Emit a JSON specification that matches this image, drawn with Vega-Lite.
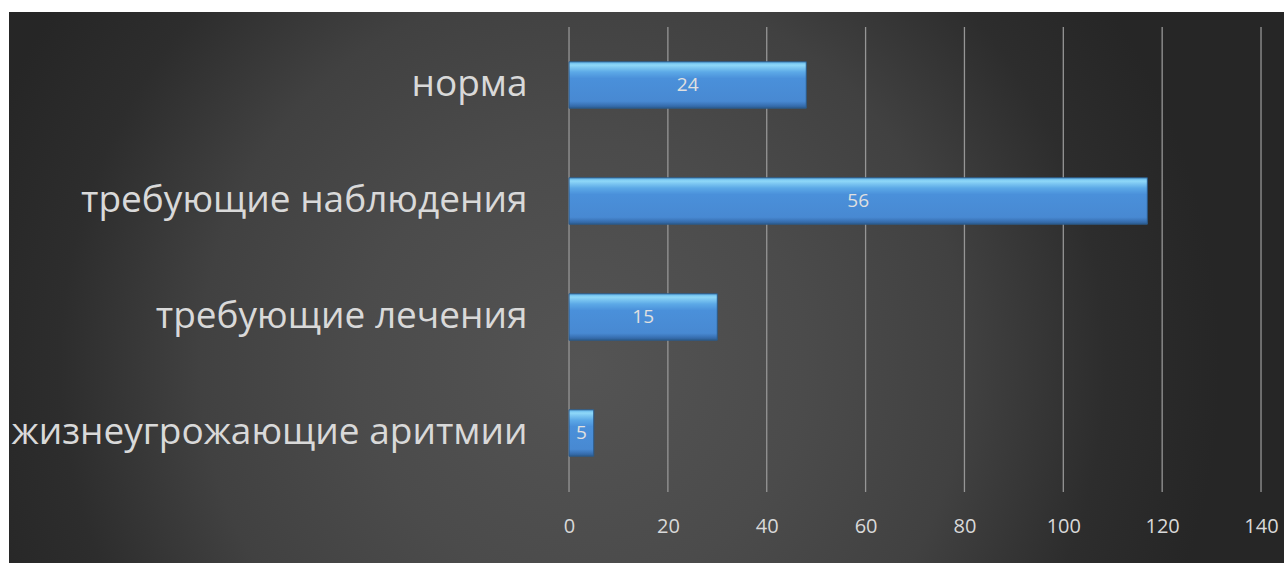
{
  "$schema": "https://vega.github.io/schema/vega-lite/v6.json",
  "width": 1275,
  "height": 551,
  "autosize": "none",
  "padding": {"left": 9, "top": 12, "right": 0, "bottom": 0},
  "background": "#ffffff",
  "config": {
    "font": "Open Sans",
    "view": {
      "stroke": null,
      "fill": {
        "gradient": "radial",
        "x1": 0.45, "y1": 0.56, "r1": 0,
        "x2": 0.45, "y2": 0.56, "r2": 0.5,
        "stops": [
          {"offset": 0, "color": "#545454"},
          {"offset": 0.35, "color": "#4b4b4b"},
          {"offset": 0.6, "color": "#414141"},
          {"offset": 0.82, "color": "#2d2d2d"},
          {"offset": 1, "color": "#262626"}
        ]
      }
    }
  },
  "datasets": {
    "bars": [
      {"cat": "норма", "v": 48, "lab": 24},
      {"cat": "требующие наблюдения", "v": 117, "lab": 56},
      {"cat": "требующие лечения", "v": 30, "lab": 15},
      {"cat": "жизнеугрожающие аритмии", "v": 5, "lab": 5}
    ],
    "ticks": [
      {"t": 0}, {"t": 20}, {"t": 40}, {"t": 60}, {"t": 80}, {"t": 100}, {"t": 120}, {"t": 140}
    ]
  },
  "layer": [
    {
      "data": {"name": "ticks"},
      "mark": {"type": "rule", "color": "#969696", "strokeWidth": 1.3},
      "encoding": {
        "x": {"field": "t", "type": "quantitative", "scale": {"domain": [-113.3, 144.65], "nice": false, "zero": false}, "axis": null},
        "y": {"datum": 0, "type": "quantitative", "scale": {"domain": [0, 1], "range": [15, 480]}, "axis": null},
        "y2": {"datum": 1}
      }
    },
    {
      "data": {"name": "bars"},
      "mark": {
        "type": "bar",
        "stroke": "#2c5a88",
        "strokeWidth": 1,
        "color": {
          "gradient": "linear",
          "x1": 0, "y1": 0, "x2": 0, "y2": 1,
          "stops": [
            {"offset": 0, "color": "#5fb2ea"},
            {"offset": 0.07, "color": "#8fd8f8"},
            {"offset": 0.22, "color": "#5ca9e7"},
            {"offset": 0.36, "color": "#4a90da"},
            {"offset": 0.85, "color": "#4889d2"},
            {"offset": 0.93, "color": "#3a73b6"},
            {"offset": 1, "color": "#2c5d94"}
          ]
        }
      },
      "encoding": {
        "x": {
          "field": "v", "type": "quantitative",
          "scale": {"domain": [-113.3, 144.65], "nice": false, "zero": false},
          "axis": {
            "values": [0, 20, 40, 60, 80, 100, 120, 140],
            "orient": "bottom",
            "offset": -31,
            "grid": false,
            "domain": false,
            "ticks": false,
            "tickSize": 0,
            "labelPadding": 0,
            "labelBaseline": "alphabetic",
            "labelFontSize": 20,
            "labelColor": "#d9d9d9",
            "labelFont": "Open Sans",
            "title": null
          }
        },
        "y": {
          "field": "cat", "type": "nominal", "sort": null,
          "scale": {"range": [15, 479], "paddingInner": 0.6, "paddingOuter": 0.3},
          "axis": {
            "orient": "left",
            "offset": -518,
            "domain": false,
            "ticks": false,
            "tickSize": 0,
            "labelPadding": 0,
            "labelFontSize": 37,
            "labelColor": "#d9d9d9",
            "labelFont": "Open Sans",
            "labelLimit": 0,
            "labelAlign": "right",
            "labelBaseline": "middle",
            "title": null
          }
        }
      }
    },
    {
      "data": {"name": "bars"},
      "mark": {"type": "text", "align": "center", "baseline": "middle", "fontSize": 19, "color": "#e0e0e0", "font": "Open Sans"},
      "encoding": {
        "x": {"field": "v", "type": "quantitative", "scale": {"domain": [-226.6, 289.3], "nice": false, "zero": false}, "axis": null},
        "y": {
          "field": "cat", "type": "nominal", "sort": null,
          "scale": {"range": [15, 479], "paddingInner": 0.6, "paddingOuter": 0.3},
          "axis": null
        },
        "text": {"field": "lab", "type": "quantitative"}
      }
    }
  ],
  "resolve": {"scale": {"x": "independent", "y": "independent"}}
}
